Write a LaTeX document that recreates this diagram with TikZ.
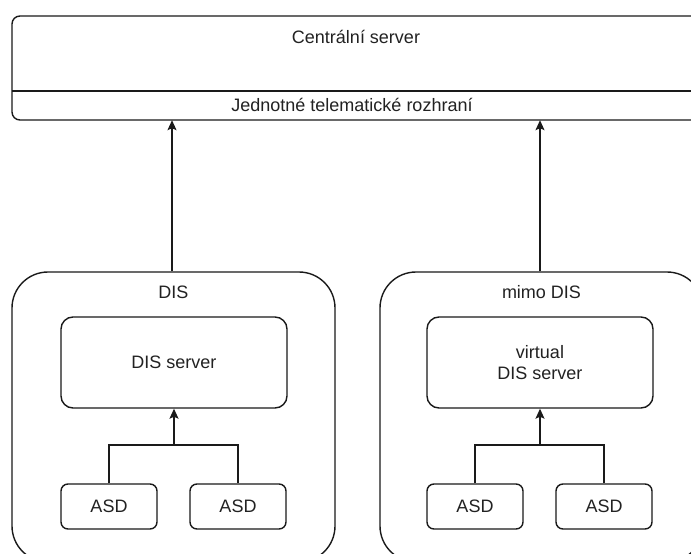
\documentclass[tikz,border=0pt]{standalone}
\usepackage{fontspec}
\setmainfont{Liberation Sans}
\usetikzlibrary{arrows.meta}
\definecolor{ink}{HTML}{1A1A1A}
\definecolor{txt}{HTML}{222222}
\tikzset{
  box/.style={draw=ink, line width=1.4pt, rounded corners=#1, inner sep=0pt},
  box/.default=10pt,
  lbl/.style={text=txt, font=\fontsize{18}{21.5}\selectfont, inner sep=0pt, align=center},
  conn/.style={draw=ink, line width=1.4pt},
  arr/.style={conn, -{Stealth[length=10pt, width=9pt, inset=2pt]}}
}
\begin{document}
\begin{tikzpicture}[x=1pt, y=-1pt]
\useasboundingbox (0,0) rectangle (691,554);
\fill[white] (0,0) rectangle (691,554);

% central server
\node[box=8pt, minimum width=688pt, minimum height=104pt] (central) at (356,68) {};
\node[lbl] (centrallbl) at (356,37) {Centrální server};
\node[minimum width=688pt, minimum height=29pt, inner sep=0pt] (jti) at (356,105.5) {};
\node[lbl] (jtilbl) at (352,105) {Jednotné telematické rozhraní};
\draw[conn] (jti.north west) -- (jti.north east);

% DIS group
\node[box=36pt, minimum width=323pt, minimum height=290pt] (dis) at (173.5,417) {};
\node[lbl] (dislbl) at (173.5,292) {DIS};
\node[box=12pt, minimum width=226pt, minimum height=91pt, lbl] (dissrv) at (174,362.5) {DIS server};
\node[box=7pt, minimum width=96pt, minimum height=45pt, lbl] (asd1) at (109,506.5) {ASD};
\node[box=7pt, minimum width=96pt, minimum height=45pt, lbl] (asd2) at (238,506.5) {ASD};
\coordinate (j1) at (174,445);
\draw[conn] (asd1.north) |- (j1) -| (asd2.north);
\draw[arr] (j1) -- (dissrv.south);

% mimo DIS group
\node[box=36pt, minimum width=323pt, minimum height=290pt] (mimo) at (541.5,417) {};
\node[lbl] (mimolbl) at (541.5,292) {mimo DIS};
\node[box=12pt, minimum width=226pt, minimum height=91pt, lbl] (vsrv) at (540,362.5) {virtual\\DIS server};
\node[box=7pt, minimum width=96pt, minimum height=45pt, lbl] (asd3) at (475,506.5) {ASD};
\node[box=7pt, minimum width=96pt, minimum height=45pt, lbl] (asd4) at (604,506.5) {ASD};
\coordinate (j2) at (540,445);
\draw[conn] (asd3.north) |- (j2) -| (asd4.north);
\draw[arr] (j2) -- (vsrv.south);

% upward connectors
\draw[arr] (dis.north -| 172,0) -- (jti.south -| 172,0);
\draw[arr] (mimo.north -| 540,0) -- (jti.south -| 540,0);
\end{tikzpicture}
\end{document}
